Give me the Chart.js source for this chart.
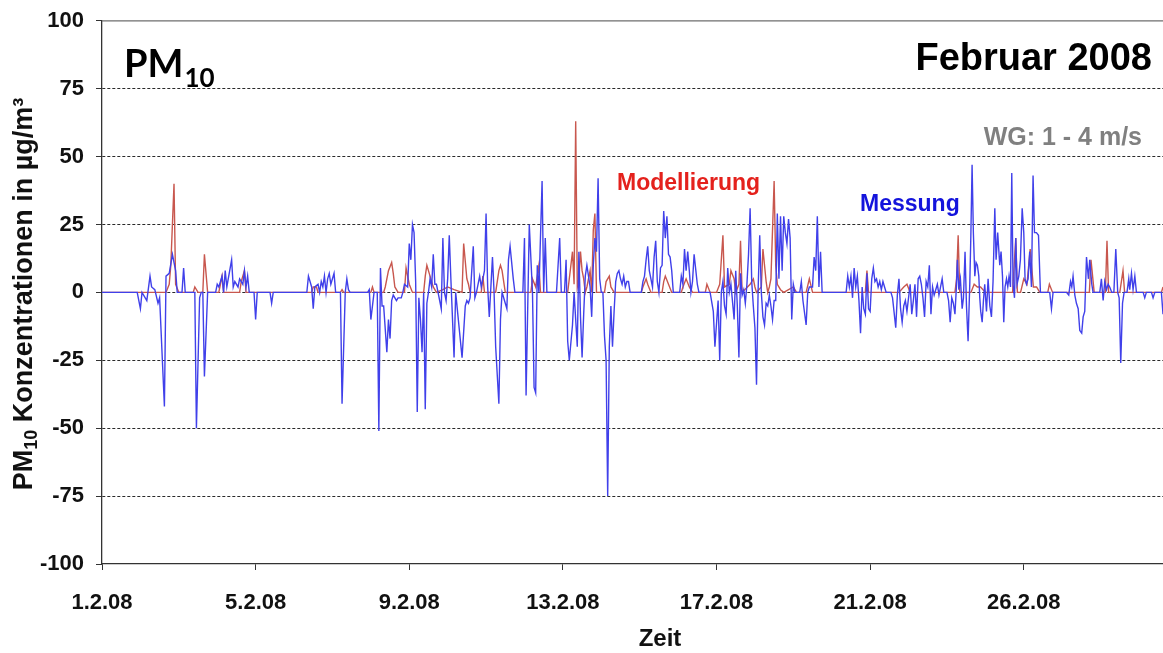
<!DOCTYPE html>
<html>
<head>
<meta charset="utf-8">
<script src="https://cdn.jsdelivr.net/npm/chart.js@4.4.0/dist/chart.umd.min.js"></script>
<style>
  html, body { margin: 0; padding: 0; background: #fff; }
  #wrap { width: 1163px; height: 653px; }
</style>
</head>
<body>
<div id="wrap"><canvas id="pm-chart" width="1163" height="653"></canvas></div>
<script>
// [hours since 1.2.08 00:00, PM10 in µg/m³]
const messung = [
  [0,0],[22,0],[24,-6],[25,0],[28,-3],[30,6],[31,2],[33,1],[35,-4],[36,-2],[39,-42],[40,6],[42,7],[44,14],[46,8],[47,0],
  [50,0],[51,9],[52,0],[58,0],[59,-50],[61,-2],[62,0],[63,0],[64,-31],[66,0],[71,0],[72,3],[73,2],[75,6],[76,0],[77,8],
  [78,2],[81,12],[82,2],[83,4],[85,2],[86,5],[88,3],[89,8],[90,2],[91,6],[92,0],[95,0],[96,-10],[97,0],[105,0],[106,-4],
  [107,0],[128,0],[129,6],[131,2],[132,-6],[133,2],[135,3],[136,0],[137,4],[138,2],[139,6],[140,0],[141,5],[142,7],[143,3],
  [145,7],[146,0],[149,0],[150,-41],[152,0],[153,5],[154,1],[155,0],[166,0],[167,1],[168,-10],[170,0],[172,0],[173,-51],
  [174,9],[175,-5],[176,-5],[178,-22],[179,-10],[180,-17],[181,-3],[182,-1],[184,-3],[185,-2],[187,-2],[188,0],[189,3],
  [191,2],[192,18],[193,12],[194,25],[195,22],[196,4],[197,-44],[198,-2],[199,-10],[200,-22],[201,0],[202,-43],[203,-4],
  [204,0],[205,5],[206,2],[207,14],[208,3],[209,3],[211,-3],[212,-6],[213,20],[214,0],[215,-3],[216,5],[217,21],[218,5],
  [220,-24],[221,0],[225,-24],[227,-5],[228,-3],[229,-4],[230,-2],[232,17],[233,-2],[234,0],[236,6],[237,2],[239,8],[240,29],
  [241,2],[242,-9],[244,13],[245,0],[246,-20],[248,-41],[249,-10],[250,0],[252,-4],[253,-6],[254,12],[255,17],[257,5],[258,0],
  [263,0],[264,20],[265,-38],[267,25],[269,0],[270,-35],[271,-37],[272,10],[273,0],[275,41],[276,0],[277,20],[278,0],[284,0],
  [286,20],[287,0],[289,0],[290,12],[291,-18],[292,-25],[294,-12],[295,0],[297,-20],[298,15],[299,-9],[300,-24],[301,-8],
  [302,6],[303,10],[305,2],[306,-9],[307,10],[308,20],[309,15],[310,42],[311,5],[312,0],[313,0],[314,-16],[315,-25],[316,-75],
  [317,-20],[318,-5],[319,-20],[320,-7],[321,4],[322,7],[323,8],[324,5],[325,3],[326,6],[327,2],[328,4],[329,4],[330,0],
  [337,0],[338,4],[339,6],[340,12],[341,17],[342,8],[344,2],[345,13],[346,19],[347,4],[348,0],[349,9],[350,10],[351,30],
  [352,20],[353,28],[354,14],[355,13],[356,8],[357,0],[361,0],[362,6],[363,3],[364,16],[365,8],[366,15],[367,8],[368,0],
  [369,4],[370,14],[372,3],[373,0],[380,0],[382,-7],[383,-20],[385,-3],[386,-25],[387,0],[388,4],[389,-5],[390,-8],[391,9],
  [392,0],[393,3],[395,-10],[396,8],[397,-5],[398,-24],[399,7],[400,-1],[401,1],[402,-4],[403,3],[404,14],[405,31],[406,4],
  [407,-5],[408,-13],[409,-34],[410,1],[411,21],[412,0],[413,-9],[414,-12],[415,-4],[416,-5],[417,-1],[418,-5],[419,-10],
  [420,-3],[421,-3],[422,29],[423,5],[424,28],[425,8],[426,28],[427,22],[428,18],[429,27],[430,20],[431,-10],[432,3],[433,0],
  [436,0],[437,4],[438,-3],[440,-12],[441,0],[442,2],[444,2],[445,13],[446,8],[447,28],[448,2],[449,15],[450,0],[465,0],
  [466,6],[467,2],[468,6],[469,-2],[470,9],[471,2],[472,6],[473,-3],[474,-15],[475,2],[476,-6],[477,-8],[478,7],[479,-6],
  [480,-7],[481,5],[482,9],[483,4],[484,5],[485,2],[486,4],[487,1],[488,4],[489,2],[490,0],[493,0],[494,-2],[496,-13],
  [497,-1],[498,5],[499,-6],[500,-11],[501,-5],[502,-3],[503,-7],[505,3],[506,-8],[507,-3],[508,3],[509,-9],[510,5],[511,6],
  [512,3],[513,-2],[514,-9],[515,4],[516,2],[517,10],[518,-8],[519,2],[520,-1],[521,1],[522,3],[523,-1],[524,2],[525,5],
  [526,0],[528,0],[529,-3],[530,-11],[531,-2],[532,-4],[533,-8],[533.9,2],[534.5,12],[535.4,1],[536.4,5],[537.5,-6],
  [538.3,-2],[539.3,15],[540.2,-5],[541.2,-18],[542.3,4],[542.9,20],[543.7,47],[544.5,22],[545.4,6],[546.2,11],[547,10],
  [547.9,6],[548.5,-2],[549.1,-7],[550,-11],[550.8,-3],[551.6,3],[552.7,-7],[553.7,5],[554.8,-5],[555.8,-9],[556.8,4],
  [557.9,31],[558.7,12],[559.7,22],[561,10],[561.8,15],[562.7,6],[563.5,-11],[564.3,2],[565.2,5],[566,2],[566.8,6],
  [567.7,2],[568.5,44],[569.3,3],[570.2,-2],[571,20],[571.8,3],[572.9,6],[573.9,12],[575,31],[576,22],[576.8,5],[577.7,3],
  [578.7,5],[579.7,15],[580.8,2],[581.8,43],[582.7,22],[583.9,22],[585.2,21],[586.4,0],[592.2,0],[593.3,-6],[594.3,0],
  [602.7,0],[604.1,-1],[605.2,4],[606,2],[606.8,6],[607.9,-1],[608.9,-4],[610,-6],[611,-14],[612.2,-15],[613.1,-9],
  [614.1,-7],[615.2,13],[616.4,5],[617.2,12],[618.5,3],[619.3,0],[623.5,0],[624.5,5],[625.6,-3],[626.6,4],[627.7,1],
  [628.7,3],[629.7,2],[631,0],[632.3,0],[633.5,16],[634.7,0],[635.6,-2],[636.6,-26],[637.7,-4],[638.7,0],[640.5,0],
  [641.6,5],[642.2,1],[643.3,7],[644.3,1],[645.4,6],[646.4,0],[650.6,0],[651.6,-2],[652.6,0],[655.8,0],[656.8,-2],
  [657.9,0],[662,0],[663,-8]
];

const modellierung = [
  [0,0],[40,0],[42,3],[43,10],[45,40],[46,3],[48,0],[57,0],[58,2],[60,0],[63,0],[64,14],[66,0],[73,0],[74,3],[75,6],[76,0],
  [86,0],[87,4],[89,8],[90,0],[131,0],[132,2],[134,2],[135,0],[149,0],[150,1],[151,0],[168,0],[169,2],[170,0],[176,0],
  [177,2],[179,8],[181,11],[182,7],[183,2],[185,0],[189,0],[190,9],[192,3],[194,0],[201,0],[202,6],[203,10],[205,6],[207,2],
  [209,0],[213,1],[216,2],[220,1],[225,0],[226,18],[228,5],[229,3],[230,0],[237,0],[238,6],[239,0],[246,0],[248,8],[249,10],
  [250,8],[252,0],[268,0],[269,5],[271,2],[273,10],[274,0],[291,0],[293,10],[294,15],[295,3],[296,63],[297,2],[298,5],
  [299,15],[300,8],[301,5],[302,0],[303,2],[305,8],[306,0],[307,23],[308,29],[309,0],[314,0],[315,4],[317,6],[318,2],[320,0],
  [337,0],[338,2],[340,5],[341,3],[343,0],[350,0],[351,4],[352,6],[354,3],[356,0],[362,0],[363,2],[365,5],[367,2],[369,0],
  [377,0],[378,3],[380,0],[384,0],[386,3],[388,21],[389,2],[392,3],[393,8],[395,5],[396,0],[398,3],[399,19],[400,0],[405,3],
  [407,5],[408,2],[409,0],[412,2],[413,16],[415,4],[416,0],[417,2],[418,5],[420,41],[421,10],[422,3],[424,1],[426,0],[432,2],
  [434,0],[440,0],[442,5],[444,0],[477,0],[478,8],[479,0],[498,0],[501,2],[503,3],[505,0],[533,0],[534,5],[535,21],[536,0],
  [543,0],[545,3],[547,2],[549,2],[552,0],[569,0],[571,20],[572,0],[574,0],[576,5],[578,3],[580,16],[582,2],[584,2],[586,0],
  [591,0],[592,3],[594,0],[617,0],[618,12],[620,0],[627,0],[628,19],[629,0],[636,0],[638,8],[639,0],[662,0],[663,2]
];

const yTicks = [-100, -75, -50, -25, 0, 25, 50, 75, 100];
const xTickHours = [0, 96, 192, 288, 384, 480, 576];
const xTickLabels = ["1.2.08", "5.2.08", "9.2.08", "13.2.08", "17.2.08", "21.2.08", "26.2.08"];
const xMaxHour = 663;

const FONT = "'Liberation Sans', Arial, sans-serif";

const textLayer = {
  id: "textLayer",
  afterDraw(chart) {
    const ctx = chart.ctx;
    const area = chart.chartArea;
    ctx.save();

    // plot frame top
    ctx.strokeStyle = "#6e6e6e";
    ctx.lineWidth = 1.2;
    ctx.beginPath();
    ctx.moveTo(area.left, area.top);
    ctx.lineTo(area.right, area.top);
    ctx.stroke();

    // y axis title, PM10 with subscript
    ctx.save();
    ctx.translate(32, 294);
    ctx.rotate(-Math.PI / 2);
    ctx.fillStyle = "#111";
    ctx.textBaseline = "alphabetic";
    ctx.textAlign = "left";
    const big = "bold 27px " + FONT, small = "bold 18px " + FONT;
    ctx.font = big;
    const wPM = ctx.measureText("PM").width;
    const rest = " Konzentrationen in µg/m³";
    const wRest = ctx.measureText(rest).width;
    ctx.font = small;
    const w10 = ctx.measureText("10").width;
    let x0 = -(wPM + w10 + wRest) / 2;
    ctx.font = big;
    ctx.fillText("PM", x0, 0);
    ctx.font = small;
    ctx.fillText("10", x0 + wPM, 5);
    ctx.font = big;
    ctx.fillText(rest, x0 + wPM + w10, 0);
    ctx.restore();

    // PM10 label inside the plot
    ctx.fillStyle = "#000";
    ctx.textAlign = "left";
    ctx.font = "bold 38px Lato, " + FONT;
    ctx.fillText("PM", 124, 77);
    const pmw = ctx.measureText("PM").width;
    ctx.font = "bold 26px Lato, " + FONT;
    ctx.fillText("10", 124 + pmw + 1, 87);

    ctx.textAlign = "right";
    ctx.font = "bold 38px " + FONT;
    ctx.fillText("Februar 2008", 1152, 70);

    ctx.fillStyle = "#808080";
    ctx.font = "bold 25px " + FONT;
    ctx.fillText("WG: 1 - 4 m/s", 1142, 145);

    ctx.textAlign = "left";
    ctx.fillStyle = "#e4211c";
    ctx.font = "bold 23px " + FONT;
    ctx.fillText("Modellierung", 617, 190);

    ctx.fillStyle = "#1414dc";
    ctx.fillText("Messung", 860, 211);

    ctx.textAlign = "center";
    ctx.fillStyle = "#111";
    ctx.font = "bold 24px " + FONT;
    ctx.fillText("Zeit", 660, 646);

    ctx.restore();
  }
};

const tickFont = { family: FONT, size: 22, weight: "bold", lineHeight: 0.8 };

new Chart(document.getElementById("pm-chart"), {
  type: "line",
  data: {
    datasets: [
      {
        label: "Messung",
        data: messung.map(([h, v]) => ({ x: h, y: v })),
        borderColor: "#4040ea",
        borderWidth: 1.4,
        pointRadius: 0,
        tension: 0,
        order: 0
      },
      {
        label: "Modellierung",
        data: modellierung.map(([h, v]) => ({ x: h, y: v })),
        borderColor: "#c8574e",
        borderWidth: 1.4,
        pointRadius: 0,
        tension: 0,
        order: 1
      }
    ]
  },
  options: {
    responsive: false,
    animation: false,
    devicePixelRatio: 1,
    layout: { padding: { top: 20, left: 0, right: 0, bottom: 0 } },
    plugins: { legend: { display: false }, tooltip: { enabled: false } },
    scales: {
      x: {
        type: "linear",
        min: 0,
        max: xMaxHour,
        afterBuildTicks: (axis) => { axis.ticks = xTickHours.map((v) => ({ value: v })); },
        afterFit: (axis) => { axis.height = 89; },
        ticks: {
          font: { family: FONT, size: 22, weight: "bold" },
          color: "#111",
          padding: 20,
          maxRotation: 0,
          autoSkip: false,
          callback: (v) => xTickLabels[xTickHours.indexOf(v)]
        },
        grid: { drawOnChartArea: false, drawTicks: true, tickLength: 6, tickColor: "#333", tickWidth: 1 },
        border: { color: "#333", width: 1.3 }
      },
      y: {
        min: -100,
        max: 100,
        afterBuildTicks: (axis) => { axis.ticks = yTicks.map((v) => ({ value: v })); },
        afterFit: (axis) => { axis.width = 102; },
        ticks: { font: tickFont, color: "#111", padding: 12 },
        grid: {
          color: (c) => (c.tick && Math.abs(c.tick.value) === 100) ? "rgba(0,0,0,0)" : "#2a2a2a",
          lineWidth: 1,
          drawTicks: true,
          tickLength: 6,
          tickColor: "#333",
          tickBorderDash: []
        },
        border: { color: "#333", width: 1.3, dash: [3, 2] }
      }
    }
  },
  plugins: [textLayer]
});
</script>
</body>
</html>
